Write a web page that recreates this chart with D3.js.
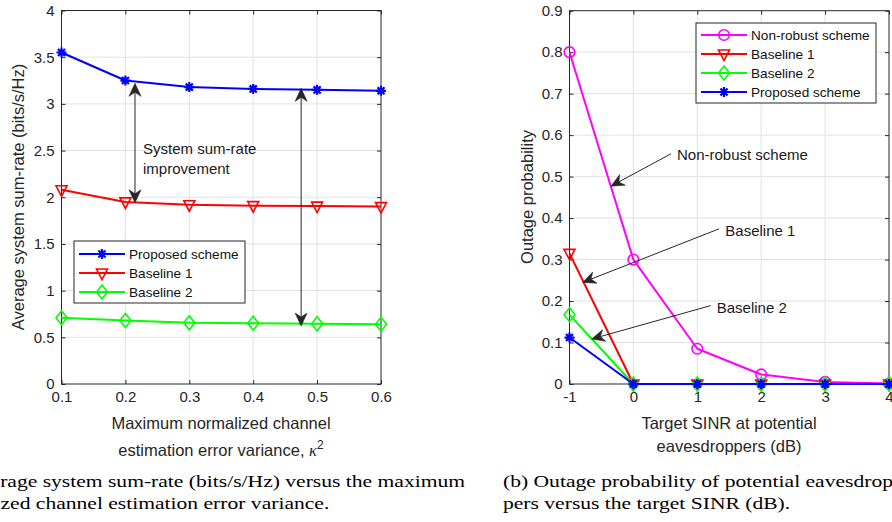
<!DOCTYPE html>
<html><head><meta charset="utf-8">
<script src="https://cdn.jsdelivr.net/npm/d3@7"></script>
<style>body{margin:0;background:#fff} svg{display:block}</style>
</head><body>
<svg id="c" width="892" height="522"></svg>
<script>
// ---------- data ----------
const kappa = [0.1, 0.2, 0.3, 0.4, 0.5, 0.6];
const sumProposed  = [3.55, 3.25, 3.18, 3.16, 3.15, 3.14];
const sumBaseline1 = [2.08, 1.95, 1.92, 1.91, 1.905, 1.90];
const sumBaseline2 = [0.71, 0.68, 0.655, 0.65, 0.645, 0.64];
const leftXTicks = [0.1, 0.2, 0.3, 0.4, 0.5, 0.6];
const leftYTicks = [0, 0.5, 1, 1.5, 2, 2.5, 3, 3.5, 4];

const sinr = [-1, 0, 1, 2, 3, 4];
const outNonRobust = [0.80, 0.30, 0.085, 0.023, 0.005, 0.001];
const outBaseline1 = [0.315, 0, 0, 0, 0, 0];
const outBaseline2 = [0.167, 0, 0, 0, 0, 0];
const outProposed  = [0.112, 0, 0, 0, 0, 0];
const rightXTicks = [-1, 0, 1, 2, 3, 4];
const rightYTicks = [0, 0.1, 0.2, 0.3, 0.4, 0.5, 0.6, 0.7, 0.8, 0.9];

const BLUE = "#0000ff", RED = "#ff0000", GREEN = "#00ff00", MAGENTA = "#ff00ff";
const AX = "#262626", GRID = "#e2e2e2";
const SANS = "'Liberation Sans', Arial, Helvetica, sans-serif";
const SERIF = "'Liberation Serif', 'Times New Roman', serif";

const svg = d3.select("#c");

// ---------- helpers ----------
function markerPath(type) {
  if (type === "star") {
    const r = 5, d = r * Math.SQRT1_2;
    return `M${-r},0L${r},0M0,${-r}L0,${r}M${-d},${-d}L${d},${d}M${-d},${d}L${d},${-d}`;
  }
  if (type === "tri") return "M-5.5,-4L5.5,-4L0,6.5Z";
  if (type === "dia") return "M0,-7L5.5,0L0,7L-5.5,0Z";
  if (type === "circ") return d3.arc()({innerRadius: 0, outerRadius: 5.3, startAngle: 0, endAngle: 2 * Math.PI});
}

function drawAxes(g, x, y, xt, yt, xfmt, yfmt) {
  const [x0, x1] = x.range(), [y0, y1] = y.range();
  g.append("g").selectAll("line").data(xt.slice(1, -1)).join("line")
    .attr("x1", d => x(d)).attr("x2", d => x(d)).attr("y1", y0).attr("y2", y1)
    .attr("stroke", GRID).attr("stroke-width", 1);
  g.append("g").selectAll("line").data(yt.slice(1, -1)).join("line")
    .attr("x1", x0).attr("x2", x1).attr("y1", d => y(d)).attr("y2", d => y(d))
    .attr("stroke", GRID).attr("stroke-width", 1);
  const ax = (gen, tr) => {
    const a = g.append("g").attr("transform", tr).call(gen);
    a.select(".domain").remove();
    a.selectAll("line").attr("stroke", AX);
    a.selectAll("text").attr("fill", AX).style("font-family", SANS).style("font-size", "15px");
    return a;
  };
  ax(d3.axisBottom(x).tickValues(xt).tickFormat(xfmt).tickSizeInner(-4).tickSizeOuter(0).tickPadding(7), `translate(0,${y0})`);
  ax(d3.axisTop(x).tickValues(xt).tickFormat("").tickSizeInner(-4).tickSizeOuter(0), `translate(0,${y1})`);
  ax(d3.axisLeft(y).tickValues(yt).tickFormat(yfmt).tickSizeInner(-4).tickSizeOuter(0).tickPadding(7), `translate(${x0},0)`);
  ax(d3.axisRight(y).tickValues(yt).tickFormat("").tickSizeInner(-4).tickSizeOuter(0), `translate(${x1},0)`);
  g.append("rect").attr("x", x0).attr("y", y1).attr("width", x1 - x0).attr("height", y0 - y1)
    .attr("fill", "none").attr("stroke", AX).attr("stroke-width", 1);
}

function drawSeries(g, x, y, xs, ys, color, marker) {
  const pts = xs.map((v, i) => [x(v), y(ys[i])]);
  g.append("path").attr("d", d3.line()(pts)).attr("fill", "none")
    .attr("stroke", color).attr("stroke-width", 2).attr("stroke-linejoin", "round");
  g.append("g").selectAll("path").data(pts).join("path")
    .attr("transform", d => `translate(${d[0]},${d[1]})`)
    .attr("d", markerPath(marker)).attr("fill", "none")
    .attr("stroke", color).attr("stroke-width", marker === "star" ? 2.2 : 1.6);
}

function drawLegend(g, box, rows, entries) {
  g.append("rect").attr("x", box[0]).attr("y", box[1]).attr("width", box[2]).attr("height", box[3])
    .attr("fill", "#fff").attr("stroke", AX).attr("stroke-width", 1);
  entries.forEach((e, i) => {
    const yy = rows[i];
    g.append("line").attr("x1", box[0] + 5).attr("x2", box[0] + 51).attr("y1", yy).attr("y2", yy)
      .attr("stroke", e.color).attr("stroke-width", 2);
    g.append("path").attr("transform", `translate(${box[0] + 28},${yy})`).attr("d", markerPath(e.marker))
      .attr("fill", "none").attr("stroke", e.color).attr("stroke-width", e.marker === "star" ? 2.2 : 1.6);
    g.append("text").attr("x", box[0] + 55).attr("y", yy).attr("dy", "0.35em")
      .style("font-family", SANS).style("font-size", "13.6px").attr("fill", "#111").text(e.label);
  });
}

function arrow(g, x1, y1, x2, y2, both) {
  const L = 13, HW = 6, N = 4;
  const head = (tx, ty, fx, fy) => {
    const dx = tx - fx, dy = ty - fy, len = Math.hypot(dx, dy), ux = dx / len, uy = dy / len;
    const nx = -uy, ny = ux;
    const bx = tx - L * ux, by = ty - L * uy;
    const mx = tx - (L - N) * ux, my = ty - (L - N) * uy;
    g.append("path").attr("d", `M${tx},${ty}L${bx + HW * nx},${by + HW * ny}L${mx},${my}L${bx - HW * nx},${by - HW * ny}Z`)
      .attr("fill", AX).attr("stroke", AX).attr("stroke-width", 0.6).attr("stroke-linejoin", "miter");
    return [mx, my];
  };
  const e = head(x2, y2, x1, y1);
  const s = both ? head(x1, y1, x2, y2) : [x1, y1];
  g.append("line").attr("x1", s[0]).attr("y1", s[1]).attr("x2", e[0]).attr("y2", e[1])
    .attr("stroke", AX).attr("stroke-width", 1);
}

function annText(g, x, y, lines) {
  lines.forEach((t, i) => g.append("text").attr("x", x).attr("y", y + i * 20)
    .style("font-family", SANS).style("font-size", "15px").attr("fill", "#1a1a1a").text(t));
}

// ---------- left chart ----------
const gl = svg.append("g");
const xL = d3.scaleLinear().domain([0.1, 0.6]).range([61.5, 381]);
const yL = d3.scaleLinear().domain([0, 4]).range([384, 10.5]);
drawAxes(gl, xL, yL, leftXTicks, leftYTicks, d3.format(".1f"), d => String(d));
drawSeries(gl, xL, yL, kappa, sumBaseline2, GREEN, "dia");
drawSeries(gl, xL, yL, kappa, sumBaseline1, RED, "tri");
drawSeries(gl, xL, yL, kappa, sumProposed, BLUE, "star");

// annotations (in data units)
arrow(gl, xL(0.215), yL(3.22), xL(0.215), yL(1.94), true);
arrow(gl, xL(0.475), yL(3.166), xL(0.475), yL(0.62), true);
annText(gl, xL(0.2276), yL(2.463), ["System sum-rate", "improvement"]);

drawLegend(gl, [74, 241, 171, 62], [254, 273, 292], [
  {label: "Proposed scheme", color: BLUE, marker: "star"},
  {label: "Baseline 1", color: RED, marker: "tri"},
  {label: "Baseline 2", color: GREEN, marker: "dia"}
]);

gl.append("text").attr("transform", `translate(24,197) rotate(-90)`).attr("text-anchor", "middle")
  .style("font-family", SANS).style("font-size", "16.5px").attr("fill", AX)
  .text("Average system sum-rate (bits/s/Hz)");
gl.append("text").attr("x", 221).attr("y", 429).attr("text-anchor", "middle")
  .style("font-family", SANS).style("font-size", "16.5px").attr("fill", AX)
  .text("Maximum normalized channel");
const xl2 = gl.append("text").attr("x", 221).attr("y", 456).attr("text-anchor", "middle")
  .style("font-family", SANS).style("font-size", "16.5px").attr("fill", AX);
xl2.append("tspan").text("estimation error variance, ");
xl2.append("tspan").style("font-family", SERIF).style("font-style", "italic").text("κ");
xl2.append("tspan").attr("dy", -7).style("font-size", "12px").text("2");

// ---------- right chart ----------
const gr = svg.append("g");
const xR = d3.scaleLinear().domain([-1, 4]).range([569.5, 889]);
const yR = d3.scaleLinear().domain([0, 0.9]).range([384, 10.7]);
drawAxes(gr, xR, yR, rightXTicks, rightYTicks, d => String(d), d => String(d));
drawSeries(gr, xR, yR, sinr, outNonRobust, MAGENTA, "circ");
drawSeries(gr, xR, yR, sinr, outBaseline1, RED, "tri");
drawSeries(gr, xR, yR, sinr, outBaseline2, GREEN, "dia");
drawSeries(gr, xR, yR, sinr, outProposed, BLUE, "star");

arrow(gr, xR(0.588), yR(0.555), xR(-0.351), yR(0.477), false);
arrow(gr, xR(1.34), yR(0.374), xR(-0.793), yR(0.245), false);
arrow(gr, xR(1.21), yR(0.189), xR(-0.653), yR(0.1085), false);
annText(gr, xR(0.682), yR(0.54), ["Non-robust scheme"]);
annText(gr, xR(1.438), yR(0.357), ["Baseline 1"]);
annText(gr, xR(1.304), yR(0.170), ["Baseline 2"]);

drawLegend(gr, [696, 23, 180, 80], [35, 54, 73, 92], [
  {label: "Non-robust scheme", color: MAGENTA, marker: "circ"},
  {label: "Baseline 1", color: RED, marker: "tri"},
  {label: "Baseline 2", color: GREEN, marker: "dia"},
  {label: "Proposed scheme", color: BLUE, marker: "star"}
]);

gr.append("text").attr("transform", `translate(533,197) rotate(-90)`).attr("text-anchor", "middle")
  .style("font-family", SANS).style("font-size", "16.5px").attr("fill", AX).text("Outage probability");
gr.append("text").attr("x", 729).attr("y", 429).attr("text-anchor", "middle")
  .style("font-family", SANS).style("font-size", "16.5px").attr("fill", AX).text("Target SINR at potential");
gr.append("text").attr("x", 729).attr("y", 452).attr("text-anchor", "middle")
  .style("font-family", SANS).style("font-size", "16.5px").attr("fill", AX).text("eavesdroppers (dB)");

// ---------- captions ----------
const SX = 1.3;
function capLine(x, y, txt, anchor) {
  const t = svg.append("text").attr("x", x).attr("y", y).attr("text-anchor", anchor || "start")
    .style("font-family", SERIF).style("font-size", "16.6px").attr("fill", "#000").text(txt);
  const L = t.node().getComputedTextLength();
  t.attr("textLength", L * SX).attr("lengthAdjust", "spacingAndGlyphs");
  return L * SX;
}
const capL1 = "(a) Average system sum-rate (bits/s/Hz) versus the maximum";
capLine(465, 487, capL1, "end");
// second line: place so that "zed" begins at the left edge, as in the reference
const probe = svg.append("text").style("font-family", SERIF).style("font-size", "16.6px").text("normali");
const prefixW = probe.node().getComputedTextLength() * SX;
probe.remove();
capLine(-prefixW + 0.5, 509, "normalized channel estimation error variance.");
capLine(503, 487, "(b) Outage probability of potential eavesdrop-");
capLine(503, 509, "pers versus the target SINR (dB).");
</script>
</body></html>
